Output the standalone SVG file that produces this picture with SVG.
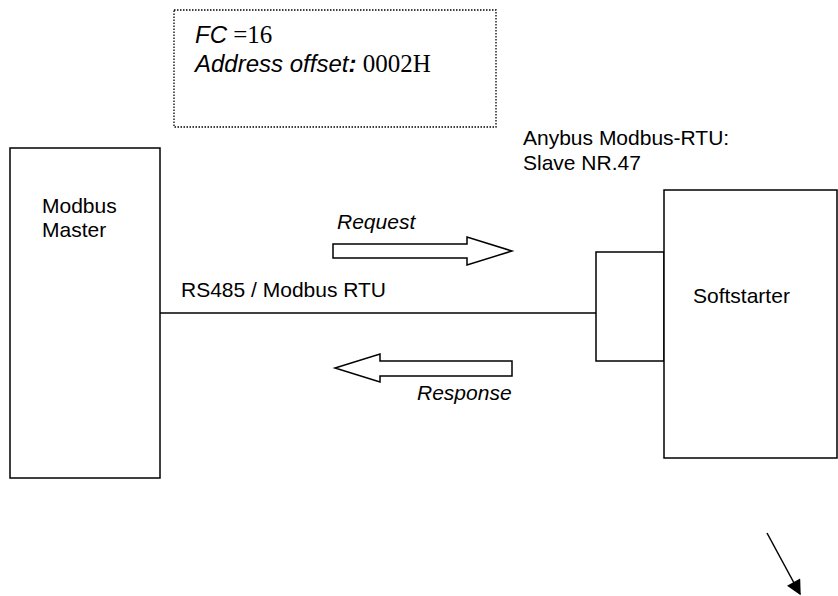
<svg xmlns="http://www.w3.org/2000/svg" width="838" height="596" viewBox="0 0 838 596">
<style>
.box{fill:#fff;stroke:#000;stroke-width:1.5}
.dot{fill:#fff;stroke:#000;stroke-width:1.3;stroke-dasharray:1.5 1.5}
.lbl{font-family:"Liberation Sans",Arial,sans-serif;font-size:21px;fill:#000}
.note{font-size:24px}
.it{font-style:italic}
.tm{font-family:"Liberation Serif","Times New Roman",serif;font-style:normal;font-size:25px}
.wire{stroke:#000;stroke-width:1.5;fill:none}
.fat{fill:#fff;stroke:#000;stroke-width:1.5;stroke-linejoin:miter}
</style>
<defs>
<marker id="ah2" viewBox="0 0 10 10" refX="9" refY="5" markerWidth="17" markerHeight="15" orient="auto" markerUnits="userSpaceOnUse">
<path d="M0,0 L10,5 L0,10 z" fill="#000"/>
</marker>
</defs>
<g id="fc-note">
<rect class="dot" x="174" y="10" width="322" height="117"/>
<text class="lbl note" x="195" y="43"><tspan class="it">FC</tspan><tspan class="tm"> =16</tspan></text>
<text class="lbl note" x="195" y="72"><tspan class="it">Address offset</tspan><tspan class="it" font-weight="bold">:</tspan><tspan class="tm"> 0002H</tspan></text>
</g>
<g id="master">
<rect class="box" x="10" y="148" width="150" height="330"/>
<text class="lbl" x="42" y="213">Modbus</text>
<text class="lbl" x="42" y="237">Master</text>
</g>
<g id="adapter">
<rect class="box" x="596" y="252" width="68" height="109"/>
</g>
<g id="softstarter">
<rect class="box" x="664" y="190" width="173" height="268"/>
<text class="lbl" x="693" y="303">Softstarter</text>
</g>
<g id="slave-label">
<text class="lbl" x="523" y="145">Anybus Modbus-RTU:</text>
<text class="lbl" x="523" y="170">Slave NR.47</text>
</g>
<g id="connectors">
<line class="wire" x1="160" y1="313" x2="596" y2="313"/>
<text class="lbl" x="181" y="297">RS485 / Modbus RTU</text>
<polygon class="fat" points="333,244 467,244 467,237 512,251 467,265 467,258 333,258"/>
<text class="lbl it" x="337" y="229">Request</text>
<polygon class="fat" points="512,361 380,361 380,354 335,368 380,382 380,376 512,376"/>
<text class="lbl it" x="417" y="400">Response</text>
<line class="wire" x1="767" y1="533" x2="800" y2="594" marker-end="url(#ah2)"/>
</g>
</svg>
